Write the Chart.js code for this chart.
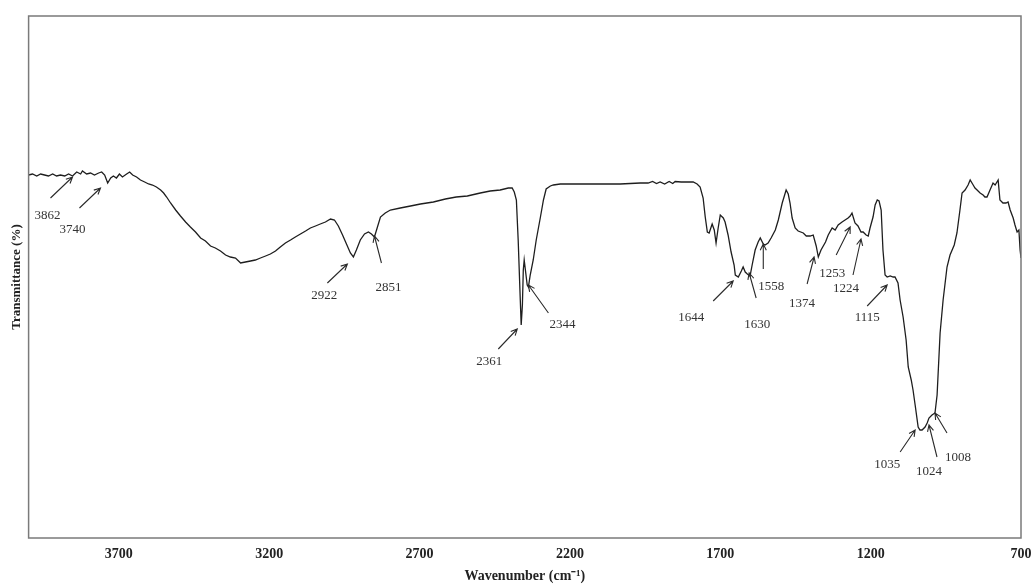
<!DOCTYPE html>
<html>
<head>
<meta charset="utf-8">
<script src="https://cdn.jsdelivr.net/npm/chart.js@4.4.0/dist/chart.umd.min.js"></script>
<style>
  html, body { margin: 0; padding: 0; background: #fff; }
  #wrap { width: 1033px; height: 585px; }
</style>
</head>
<body>
<div id="wrap"><canvas id="ftir"></canvas></div>
<script>
// spectrum (wavenumber in cm-1, transmittance in arbitrary %)
const wavenumbers = [
  4000, 3987, 3973, 3960, 3947, 3934, 3920, 3907, 3894, 3880, 3867, 3854, 3840, 3827, 3821, 3807,
  3794, 3781, 3767, 3757, 3747, 3737, 3727, 3718, 3708, 3698, 3688, 3674, 3664, 3654, 3641, 3628,
  3614, 3601, 3588, 3575, 3561, 3551, 3541, 3528, 3511, 3495, 3478, 3462, 3445, 3428, 3412, 3395,
  3379, 3362, 3345, 3329, 3312, 3295, 3279, 3262, 3246, 3229, 3212, 3196, 3179, 3163, 3146, 3129,
  3113, 3096, 3079, 3063, 3046, 3030, 3013, 2996, 2983, 2970, 2956, 2943, 2930, 2920, 2910, 2897,
  2883, 2870, 2860, 2850, 2840, 2830, 2814, 2797, 2764, 2730, 2697, 2654, 2614, 2578, 2541, 2498,
  2465, 2432, 2405, 2392, 2385, 2378, 2372, 2365, 2362, 2358, 2355, 2352, 2348, 2342, 2338, 2332,
  2322, 2312, 2298, 2288, 2279, 2265, 2255, 2232, 2165, 2099, 2033, 1966, 1940, 1925, 1912, 1900,
  1885, 1870, 1858, 1850, 1830, 1807, 1790,
  1777, 1767, 1757, 1750, 1743, 1737, 1727, 1720, 1714, 1707, 1700, 1690, 1684, 1674, 1664, 1654,
  1650, 1640, 1630, 1624, 1617, 1610, 1601, 1594, 1584, 1574, 1567, 1557, 1551, 1541, 1531, 1517,
  1507, 1494, 1481, 1474, 1468, 1461, 1451, 1441, 1424, 1414, 1401, 1391, 1381, 1374, 1365, 1350,
  1341, 1328, 1318, 1308, 1295, 1285, 1275, 1268, 1262, 1252, 1242, 1232, 1225, 1215, 1208, 1202,
  1192, 1185, 1178, 1172, 1165, 1159, 1152, 1145, 1135, 1125, 1119, 1109, 1102, 1092, 1082, 1075,
  1065, 1059, 1052, 1042, 1036, 1029, 1019, 1012, 1006, 996, 986, 979, 969, 959, 946, 936,
  922, 913, 903, 896, 886, 876, 869, 859, 853, 846, 836, 826, 820, 813, 803, 793,
  786, 776, 770, 760, 750, 743, 736, 726, 720, 713, 707, 703, 700
];
const transmittance = [
  68.2, 68.4, 68.0, 68.4, 68.2, 68.0, 68.4, 68.0, 68.2, 68.0, 68.4, 68.0, 68.8, 68.4, 69.0, 68.4,
  68.6, 68.2, 68.6, 68.8, 68.2, 66.6, 67.6, 68.0, 67.6, 68.4, 67.8, 68.4, 68.8, 68.2, 67.8, 67.2,
  66.8, 66.4, 66.2, 65.8, 65.2, 64.6, 63.8, 62.6, 61.2, 60.0, 58.8, 57.8, 56.8, 55.6, 55.0, 54.0,
  53.6, 53.0, 52.2, 51.8, 51.6, 50.6, 50.8, 51.0, 51.2, 51.6, 52.0, 52.4, 53.0, 53.8, 54.6, 55.2,
  55.8, 56.4, 57.0, 57.6, 58.0, 58.4, 58.8, 59.4, 59.2, 58.0, 56.2, 54.4, 52.6, 51.8, 53.2, 55.2,
  56.4, 56.8, 56.4, 55.8, 57.8, 59.8, 60.6, 61.2, 61.6, 62.0, 62.4, 62.8, 63.4, 63.8, 64.0, 64.6,
  65.0, 65.2, 65.6, 65.6, 64.8, 63.2, 55.2, 43.2, 38.2, 42.2, 49.2, 51.2, 49.2, 46.2, 45.8, 48.2,
  51.2, 55.2, 59.8, 63.2, 65.4, 66.0, 66.2, 66.4, 66.4, 66.4, 66.4, 66.6, 66.6, 66.9, 66.5, 66.8,
  66.4, 66.9, 66.5, 66.9, 66.8, 66.8, 66.8,
  66.4, 65.8, 63.6, 59.8, 56.8, 56.6, 58.4, 57.2, 54.6, 57.6, 60.2, 59.6, 58.8, 56.2, 52.8, 50.2,
  48.2, 47.8, 49.0, 49.8, 48.8, 48.4, 48.0, 50.2, 53.2, 54.8, 55.6, 54.4, 54.2, 54.6, 55.6, 57.2,
  59.2, 62.6, 65.2, 64.4, 62.6, 59.6, 57.6, 57.0, 56.6, 56.0, 56.0, 56.2, 54.0, 51.8, 53.2, 54.8,
  56.2, 57.6, 57.2, 58.2, 58.8, 59.2, 59.6, 60.0, 60.6, 58.6, 58.0, 56.8, 56.8, 56.2, 56.0, 57.6,
  59.8, 62.2, 63.2, 63.0, 61.2, 53.2, 48.2, 47.8, 48.0, 47.8, 47.8, 46.6, 43.2, 39.8, 35.2, 29.8,
  27.2, 25.2, 22.2, 17.8, 17.2, 17.2, 17.8, 18.6, 19.6, 20.2, 20.6, 24.2, 36.6, 43.2, 49.8, 52.2,
  54.2, 56.6, 61.2, 64.6, 65.2, 66.2, 67.2, 66.2, 65.6, 65.2, 64.6, 64.2, 63.8, 63.8, 65.2, 66.6,
  66.2, 67.2, 63.2, 62.6, 62.6, 62.8, 61.2, 59.6, 58.2, 56.8, 57.2, 53.2, 51.6
];
const xTicks = [3700, 3200, 2700, 2200, 1700, 1200, 700];

// marked peaks: label and the point the arrow touches
const peakLabels = ["3862", "3740", "2922", "2851", "2361", "2344", "1644", "1630",
                    "1558", "1374", "1253", "1224", "1115", "1035", "1024", "1008"];
const peakWn = [3854, 3761, 2940, 2850, 2375, 2338, 1657, 1604, 1557, 1388, 1268, 1232, 1145, 1052, 1006, 986];
const peakT  = [67.8, 65.6, 50.4, 56.0, 37.4, 46.2, 47.0, 48.6, 54.4, 51.8, 57.8, 55.4, 46.2, 17.2, 18.2, 20.6];

// arrow tail and label offsets in px from the tip
const arrowStyle = [
  { tx: -22, ty: 21, lx: -25, ly: 39 },
  { tx: -21, ty: 20, lx: -28, ly: 42 },
  { tx: -20, ty: 19, lx: -23, ly: 32 },
  { tx: 7, ty: 27, lx: 14, ly: 52 },
  { tx: -19, ty: 20, lx: -28, ly: 33 },
  { tx: 20, ty: 28, lx: 34, ly: 40 },
  { tx: -20, ty: 20, lx: -42, ly: 37 },
  { tx: 7, ty: 25, lx: 8, ly: 52 },
  { tx: 0, ty: 25, lx: 8, ly: 43 },
  { tx: -7, ty: 27, lx: -12, ly: 47 },
  { tx: -14, ty: 28, lx: -18, ly: 47 },
  { tx: -8, ty: 36, lx: -15, ly: 50 },
  { tx: -20, ty: 21, lx: -20, ly: 33 },
  { tx: -15, ty: 22, lx: -28, ly: 35 },
  { tx: 8, ty: 32, lx: 0, ly: 47 },
  { tx: 12, ty: 20, lx: 23, ly: 45 }
];

const points = wavenumbers.map((w, i) => ({ x: w, y: transmittance[i] }));

const framePlugin = {
  id: "frame",
  afterDatasetsDraw(chart) {
    const { ctx, chartArea: a } = chart;
    ctx.save();
    ctx.strokeStyle = "#7a7a7a";
    ctx.lineWidth = 1.5;
    ctx.strokeRect(a.left, a.top, a.right - a.left, a.bottom - a.top);
    ctx.restore();
  }
};

const peakPlugin = {
  id: "peaks",
  afterDatasetsDraw(chart) {
    const ctx = chart.ctx;
    const xs = chart.scales.x, ys = chart.scales.y;
    ctx.save();
    ctx.strokeStyle = "#2a2a2a";
    ctx.fillStyle = "#333";
    ctx.lineWidth = 1.1;
    ctx.font = "13px 'Liberation Serif'";
    ctx.textAlign = "center";
    ctx.textBaseline = "middle";
    peakLabels.forEach((lab, i) => {
      const px = xs.getPixelForValue(peakWn[i]);
      const py = ys.getPixelForValue(peakT[i]);
      const s = arrowStyle[i];
      const tx = px + s.tx, ty = py + s.ty;
      ctx.beginPath();
      ctx.moveTo(tx, ty);
      ctx.lineTo(px, py);
      const ang = Math.atan2(py - ty, px - tx);
      const h = 7;
      ctx.moveTo(px - h * Math.cos(ang - 0.45), py - h * Math.sin(ang - 0.45));
      ctx.lineTo(px, py);
      ctx.lineTo(px - h * Math.cos(ang + 0.45), py - h * Math.sin(ang + 0.45));
      ctx.stroke();
      ctx.fillText(lab, px + s.lx, py + s.ly);
    });
    ctx.restore();
  }
};

new Chart(document.getElementById("ftir"), {
  type: "line",
  data: {
    datasets: [{
      data: points,
      borderColor: "#1e1e1e",
      borderWidth: 1.3,
      pointRadius: 0,
      tension: 0,
      fill: false
    }]
  },
  options: {
    responsive: true,
    maintainAspectRatio: false,
    animation: false,
    events: [],
    layout: { padding: { top: 16, right: 12, left: 5, bottom: 0 } },
    plugins: { legend: { display: false }, tooltip: { enabled: false } },
    scales: {
      x: {
        type: "linear",
        reverse: true,
        min: 700,
        max: 4000,
        afterBuildTicks: axis => { axis.ticks = xTicks.map(v => ({ value: v })); },
        afterFit: axis => {
          axis.height = 47;
          axis.paddingLeft = 0;
          axis.paddingRight = 0;
        },
        grid: { display: false, drawTicks: false },
        border: { display: false },
        ticks: {
          padding: 8,
          maxRotation: 0,
          autoSkip: false,
          color: "#222",
          callback: v => String(v),
          font: { family: "'Liberation Serif'", size: 14, weight: "bold" }
        },
        title: {
          display: true,
          text: "Wavenumber (cm\u207B\u00B9)",
          color: "#222",
          padding: { top: 0, bottom: 0 },
          font: { family: "'Liberation Serif'", size: 14, weight: "bold" }
        }
      },
      y: {
        min: -4.4,
        max: 100,
        grid: { display: false, drawTicks: false },
        border: { display: false },
        ticks: { display: false },
        title: {
          display: true,
          text: "Transmittance (%)",
          color: "#222",
          padding: { top: 4, bottom: 4 },
          font: { family: "'Liberation Serif'", size: 13, weight: "bold" }
        }
      }
    }
  },
  plugins: [framePlugin, peakPlugin]
});
</script>
</body>
</html>
